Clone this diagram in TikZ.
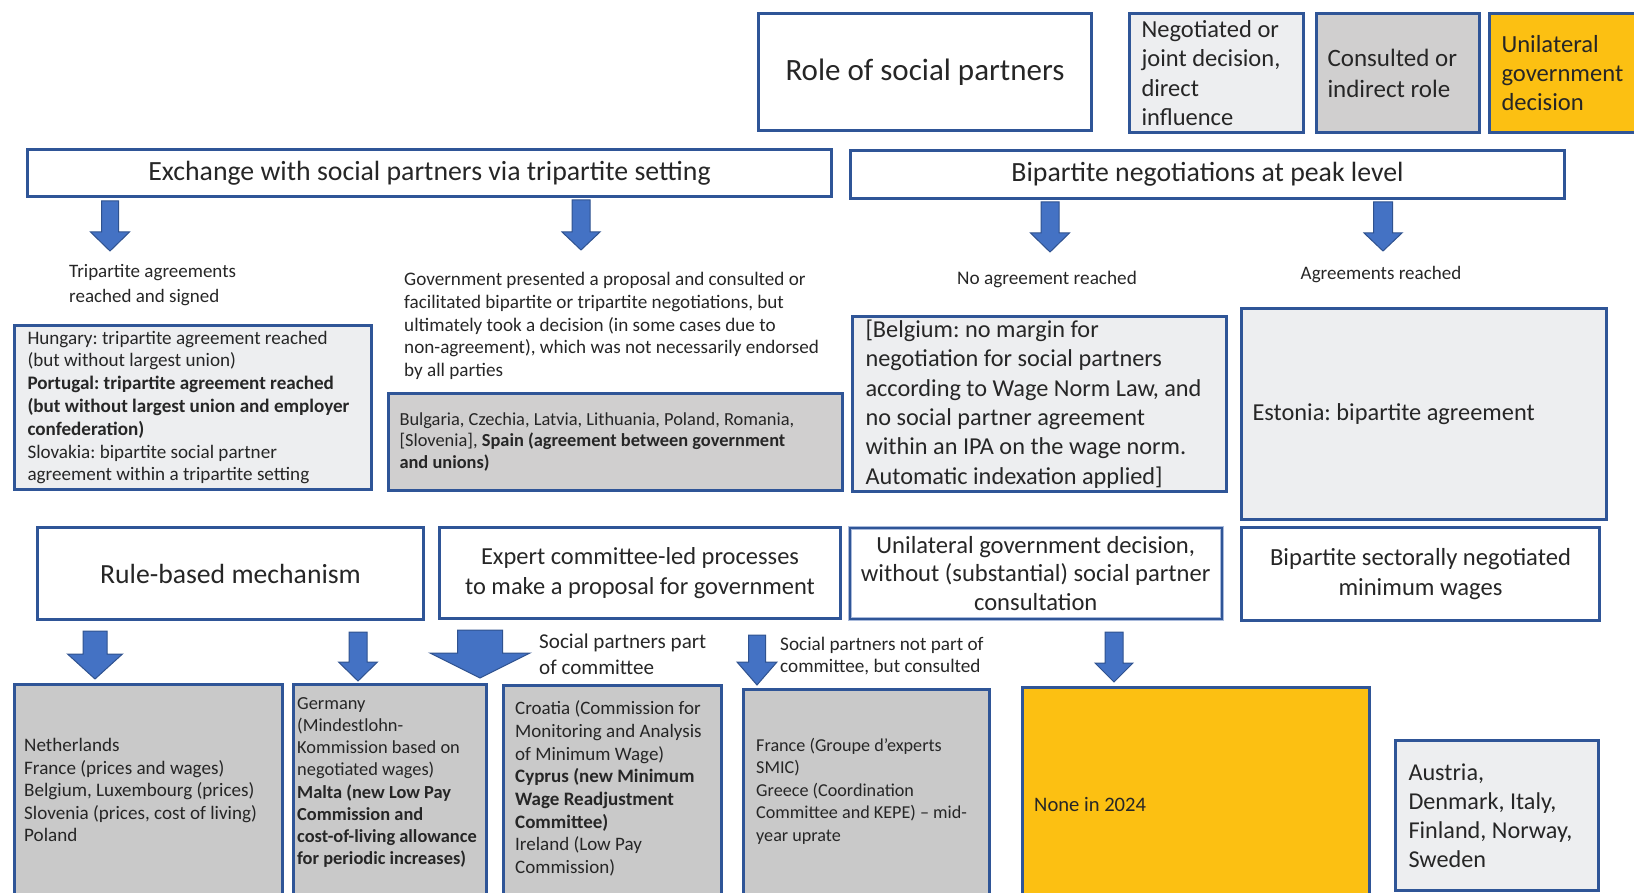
\documentclass[tikz,border=0pt]{standalone}
\usepackage{fontspec}
\setmainfont{Carlito}
\definecolor{bblue}{HTML}{2F5597}
\definecolor{afill}{HTML}{4472C4}
\definecolor{aline}{HTML}{2F528F}
\definecolor{lightfill}{HTML}{EDEEF0}
\definecolor{midgray}{HTML}{D0CFCF}
\definecolor{dgray}{HTML}{C9C9C9}
\definecolor{amber}{HTML}{FCC012}
\definecolor{txt}{HTML}{262626}
\definecolor{halo}{HTML}{A9BADB}
\newcommand\fsz[2]{\fontsize{#1}{#2}\selectfont\frenchspacing}
\newcommand\myarrow[7]{% name, cx, top, headstart, apex, shafthalf, headhalf
  \coordinate (#1) at (#2,#3);
  \filldraw[barrow] (#2-#6,#3) -- (#2+#6,#3) -- (#2+#6,#4) -- (#2+#7,#4) -- (#2,#5) -- (#2-#7,#4) -- (#2-#6,#4) -- cycle;}
\tikzset{
  box/.style={draw=bblue, line width=3pt, anchor=north west, inner sep=0pt, text=txt},
  lbox/.style={box, align=flush left, inner xsep=#1},
  lbox/.default=12pt,
  cbox/.style={box, align=flush center},
  free/.style={inner sep=0pt, text=txt, align=flush left},
  barrow/.style={fill=afill, draw=aline, line width=1pt, line join=miter},
}
\begin{document}
\frenchspacing
\begin{tikzpicture}[x=1pt,y=-1pt]
\useasboundingbox (0,0) rectangle (1634,893);
\clip (0,0) rectangle (1634,893);

% --- legend row
\node[box, minimum width=333pt, minimum height=117pt, font=\fsz{31}{36}] (role) at (757,12) {Role of social partners};
\node[lbox, fill=lightfill, text width=150pt, minimum height=119pt, font=\fsz{24.5}{29.3}] (neg) at (1128,12) {Negotiated or\\joint decision,\\direct\\influence};
\node[lbox=11pt, fill=midgray, text width=141pt, minimum height=119pt, font=\fsz{25}{31}] (cons) at (1315,12) {Consulted or\\indirect role};
\node[lbox, fill=amber, text width=133pt, minimum height=119pt, font=\fsz{24.6}{29}] (unil) at (1488,12) {Unilateral\\government\\decision};

% --- top headers
\node[box, minimum width=804pt, minimum height=47pt, font=\fsz{27.8}{32}] (exch) at (26,148) {Exchange with social partners via tripartite setting};
\node[box, minimum width=714pt, minimum height=48pt, font=\fsz{27.8}{32}] (bpeak) at (849,149) {Bipartite negotiations at peak level};

% --- arrows row 1
\myarrow{a1}{110}{201}{232}{251}{8.5}{19.5}
\myarrow{a2}{581}{200}{232}{250}{9}{19}
\myarrow{a3}{1050}{202}{233}{252}{9}{19.5}
\myarrow{a4}{1383}{202}{233}{251}{9.5}{19}

% --- labels
\node[free, anchor=west, font=\fsz{19}{25}] (trip) at (69,285.5) {Tripartite agreements\\reached and signed};
\node[free, anchor=west, font=\fsz{19.15}{22.8}] (govt) at (404,326) {Government presented a proposal and consulted or\\facilitated bipartite or tripartite negotiations, but\\ultimately took a decision (in some cases due to\\non-agreement), which was not necessarily endorsed\\by all parties};
\node[free, font=\fsz{19.25}{22}] (noagr) at (1047,279) {No agreement reached};
\node[free, font=\fsz{19.05}{22}] (agr) at (1381,275) {Agreements reached};

% --- middle boxes
\node[lbox=13pt, fill=lightfill, text width=331pt, minimum height=164pt, font=\fsz{19.1}{22.8}] (hung) at (13,324) {Hungary: tripartite agreement reached\\(but without largest union)\\\textbf{Portugal: tripartite agreement reached}\\\textbf{(but without largest union and employer}\\\textbf{confederation)}\\Slovakia: bipartite social partner\\agreement within a tripartite setting};
\node[lbox=11pt, fill=midgray, text width=432pt, minimum height=97pt, font=\fsz{18.4}{21.5}] (bulg) at (387,392) {Bulgaria, Czechia, Latvia, Lithuania, Poland, Romania,\\{}[Slovenia], \textbf{Spain (agreement between government}\\\textbf{and unions)}};
\node[lbox=13pt, fill=lightfill, text width=348pt, minimum height=175pt, font=\fsz{24.3}{29.3}] (belg) at (851,315) {{[}Belgium: no margin for\\negotiation for social partners\\according to Wage Norm Law, and\\no social partner agreement\\within an IPA on the wage norm.\\Automatic indexation applied{]}};
\node[lbox=11pt, fill=lightfill, text width=343pt, minimum height=211pt, font=\fsz{24.35}{28}] (est) at (1240,307) {Estonia: bipartite agreement};

% --- second header row
\node[box, minimum width=386pt, minimum height=92pt, font=\fsz{27.7}{32}] (rule) at (36,526) {Rule-based mechanism};
\node[cbox, minimum width=401pt, minimum height=91pt, font=\fsz{24.45}{30}] (expert) at (438,526) {Expert committee-led processes\\to make a proposal for government};
\node[cbox, draw=bblue, line width=1.5pt, preaction={draw=halo, line width=4.5pt}, minimum width=372pt, minimum height=91pt, font=\fsz{24.6}{28.5}] (unigov) at (849,527) {Unilateral government decision,\\without (substantial) social partner\\consultation};
\node[cbox, minimum width=358pt, minimum height=93pt, font=\fsz{24.6}{30}] (bsect) at (1240,526) {Bipartite sectorally negotiated\\minimum wages};

% --- arrows row 2
\myarrow{b1}{95}{631}{654}{679}{12}{27.5}
\myarrow{b2}{358}{632}{662}{681}{9}{19.5}
\myarrow{b3}{480}{630}{653}{678}{22.5}{50}
\myarrow{b4}{757}{635}{662}{685}{8.5}{20}
\myarrow{b5}{1114}{632}{663}{682}{9}{19}

\node[free, anchor=west, font=\fsz{21.1}{26}] (sppart) at (539,654) {Social partners part\\of committee};
\node[free, anchor=west, font=\fsz{19.2}{22}] (spnot) at (780,656) {Social partners not part of\\committee, but consulted};

% --- bottom boxes
\node[box, fill=dgray, minimum width=268pt, minimum height=240pt] (neth) at (13,683) {};
\node[free, anchor=west, font=\fsz{19.1}{22.5}] (netht) at (24,790) {Netherlands\\France (prices and wages)\\Belgium, Luxembourg (prices)\\Slovenia (prices, cost of living)\\Poland};
\node[box, fill=dgray, minimum width=193pt, minimum height=240pt] (germ) at (292,683) {};
\node[free, anchor=west, font=\fsz{18.4}{22.1}] (germt) at (297,782.5) {Germany\\(Mindestlohn-\\Kommission based on\\negotiated wages)\\\textbf{Malta (new Low Pay}\\\textbf{Commission and}\\\textbf{cost-of-living allowance}\\\textbf{for periodic increases)}};
\node[box, fill=dgray, minimum width=218pt, minimum height=240pt] (croat) at (502,684) {};
\node[free, anchor=west, font=\fsz{19}{22.7}] (croatt) at (515,788.5) {Croatia (Commission for\\Monitoring and Analysis\\of Minimum Wage)\\\textbf{Cyprus (new Minimum}\\\textbf{Wage Readjustment}\\\textbf{Committee)}\\Ireland (Low Pay\\Commission)};
\node[box, fill=dgray, minimum width=246pt, minimum height=240pt] (france) at (742,688) {};
\node[free, anchor=west, font=\fsz{18.15}{22.5}] (francet) at (756,791) {France (Groupe d’experts\\SMIC)\\Greece (Coordination\\Committee and KEPE) – mid-\\year uprate};
\node[box, fill=amber, minimum width=347pt, minimum height=240pt] (none) at (1021,686) {};
\node[free, anchor=west, font=\fsz{20.6}{24}] (nonet) at (1034,804) {None in 2024};
\node[lbox=13pt, fill=lightfill, text width=177pt, minimum height=150pt, font=\fsz{24.2}{29}] (aus) at (1394,739) {Austria,\\Denmark, Italy,\\Finland, Norway,\\Sweden};
\end{tikzpicture}
\end{document}
